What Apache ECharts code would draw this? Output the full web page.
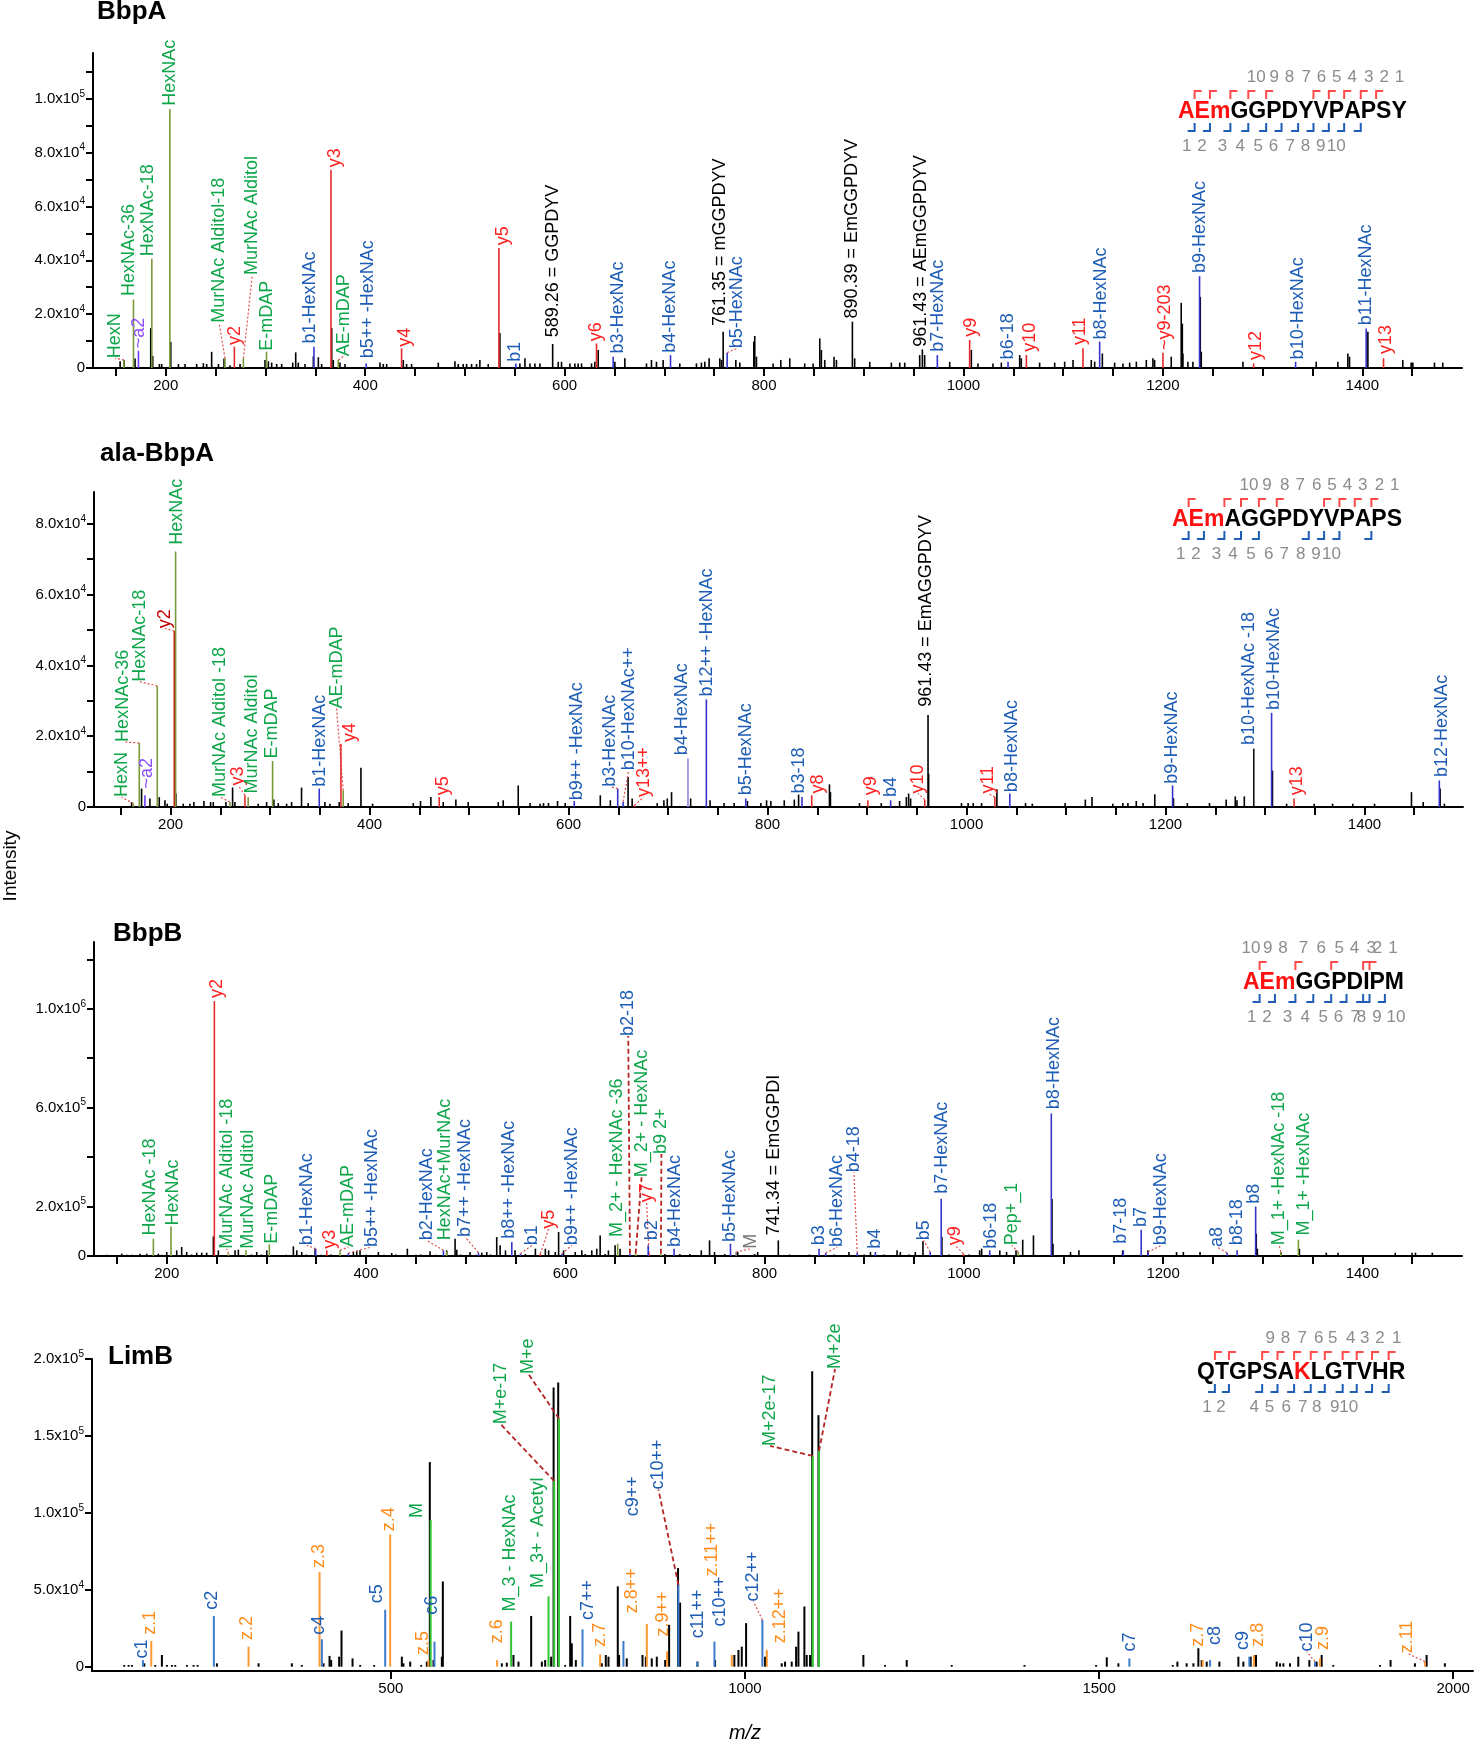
<!DOCTYPE html>
<html><head><meta charset="utf-8">
<script src="https://cdn.jsdelivr.net/npm/echarts@6/dist/echarts.min.js"></script>
<style>html,body{margin:0;padding:0;background:#fff}#c{width:1476px;height:1742px}</style>
</head><body><div id="c"></div><script>
const FONT = '"Liberation Sans", Arial, Helvetica, sans-serif';

// ---------- axis ticks / labels ----------
const xTicksA = [150,200,250,300,350,400,450,500,550,600,650,700,750,800,850,900,950,1000,1050,1100,1150,1200,1250,1300,1350,1400,1450];
const xLabelsA = [200,400,600,800,1000,1200,1400];
const p1YTicks = [0,10000,20000,30000,40000,50000,60000,70000,80000,90000,100000,110000];
const p1YLabels = [0,20000,40000,60000,80000,100000];
const p2YTicks = [0,10000,20000,30000,40000,50000,60000,70000,80000];
const p2YLabels = [0,20000,40000,60000,80000];
const p3YTicks = [0,200000,400000,600000,800000,1000000,1200000];
const p3YLabels = [0,200000,600000,1000000];
const p4XTicks = [500,1000,1500,2000];
const p4YTicks = [0,50000,100000,150000,200000];

// ---------- panel 1 : BbpA ----------
const p1Noise = [[154.2,2500],[158.2,3000],[169.2,3500],[184.9,14800],[186.9,4500],[193.6,1500],[195.9,1500],[205,9700],[212.7,1500],[219.3,1500],[231,1500],[237.7,1800],[241,1500],[246,6000],[252.8,1500],[258.4,3500],[264.4,1000],[274.5,1500],[299.5,3000],[302.9,2500],[306.2,2000],[311.2,1500],[316.2,1500],[327.3,2000],[330.3,5800],[332.9,2000],[339.6,1500],[348,4300],[353,4000],[356.3,1500],[366.4,14800],[368,3000],[374.7,2000],[379.7,1500],[414.8,2000],[418.1,1500],[421.5,1500],[438.2,3000],[441.5,1500],[446.5,1500],[473.3,2000],[490,2500],[493.3,1500],[498.3,1500],[501.7,1500],[506.7,1500],[511.7,1500],[515,3000],[523.4,1500],[535.1,13000],
[555.1,1700],[560.2,3600],[565.2,1700],[570.2,1700],[575.2,1700],[593.6,2300],[596.9,2300],[605.3,1700],[610.3,1700],[613.6,1700],[617,1700],[627,1700],[630.3,2300],[633.7,6700],[650.4,2300],[660.4,3600],[682.1,1700],[687.1,3000],[692.1,2300],[698.8,3000],[715.5,1700],[732.2,1700],[737.2,2000],[740.6,2300],[744.9,3600],[755.6,3600],[757.3,3000],[771.7,3000],[775.7,2000],[789.7,9800],[790.7,11900],[792.4,4200],[809.1,1700],[816.8,3000],[825.8,3600],[840.8,1700],[849.2,1700],[855.9,11000],[857.5,6700],[860.9,3000],[870.2,4200],[872.6,3000],[890.9,3600],[906,2300],[927.7,2000],[936.1,2000],[941.1,2000],[956.1,4800],[961.1,4800],[986.2,2300],[1007.9,6700],[1014.6,1700],[1029.6,1700],
[1038,2000],[1056.4,4800],[1058,3600],[1076.4,2000],[1091.5,2000],[1101.5,2350],[1109.9,3000],[1128.2,3000],[1131.6,2350],[1139.3,5400],[1151.6,2000],[1160,1700],[1166.7,2000],[1173.4,2350],[1183.4,3000],[1190,3600],[1191.7,3000],[1208.4,4200],[1218.4,24200],[1219.5,16500],[1220.1,5400],[1225.1,2350],[1230.1,2350],[1237.5,26400],[1238.5,6050],[1280.3,2350],[1353.8,2350],[1375.5,2350],[1385.5,5400],[1387.2,4200],[1405.6,13500],[1440.6,3000],[1449,2000],[1450.7,2000],[1472.4,2000],[1480.7,2000]];
// [m/z, intensity, label, colour, label m/z, label base intensity, leader]
const p1Ann = [
 [158,3000,'HexN','g',149.2,3600,1],
 [167.6,25400,'HexNAc-36','g',163.5,26700,0],
 [172.6,6400,'~a2','p',173.6,7300,0],
 [186,40600,'HexNAc-18','g',182.6,41500,0],
 [204.1,96200,'HexNAc','g',204.3,97400,0],
 [259.4,3600,'MurNAc Alditol-18','g',253.4,16800,1],
 [268.8,7900,'y2','r',269.5,8500,0],
 [277.8,3600,'MurNAc Alditol','g',286.8,34500,1],
 [301,6050,'E-mDAP','g',301.2,6400,0],
 [348.6,7900,'b1-HexNAc','b',344.6,9100,0],
 [365.7,73600,'y3','r',369.7,74600,0],
 [373,3000,'AE-mDAP','g',378.7,4400,1],
 [401,1700,'b5++ -HexNAc','b',403.1,3600,0],
 [436.5,7300,'y4','r',439.9,7900,0],
 [534.1,44600,'y5','r',538.4,45600,0],
 [551.1,1700,'b1','b',550.1,2300,0],
 [588,8900,'589.26 = GGPDYV','k',588.6,11400,0],
 [632,9100,'y6','r',632,9900,0],
 [648.7,4200,'b3-HexNAc','b',653.7,5400,0],
 [706.2,4800,'b4-HexNAc','b',706.2,5700,0],
 [759,13500,'761.35 = mGGPDYV','k',755.6,15600,0],
 [763,5700,'b5-HexNAc','b',773,7300,1],
 [888.6,17200,'890.39 = EmGGPDYV','k',888.6,18400,0],
 [958.8,6900,'961.43 = AEmGGPDYV','k',957.8,7900,0],
 [973.8,4800,'b7-HexNAc','b',974.5,6050,0],
 [1006.2,10400,'y9','r',1007.9,11600,0],
 [1044.7,2300,'b6-18','b',1044.7,3200,0],
 [1063.1,4800,'y10','r',1066.4,6050,0],
 [1119.9,7300,'y11','r',1116.5,8500,0],
 [1136.6,9800,'b8-HexNAc','b',1138.3,10600,0],
 [1200.1,5700,'~y9-203','r',1201.7,6700,0],
 [1236.8,34100,'b9-HexNAc','b',1236.8,35300,0],
 [1291,1700,'y12','r',1293.6,3000,0],
 [1333.1,2300,'b10-HexNAc','b',1335.4,3200,0],
 [1403.9,14700,'b11-HexNAc','b',1403.9,15900,0],
 [1421.3,3600,'y13','r',1423.9,5200,0]
];

// ---------- panel 2 : ala-BbpA ----------
const p2Noise = [[160.8,1400],[170.8,5200],[179.2,2400],[188.6,2800],[194.3,1900],[196.6,940],[205.3,3800],[212.7,940],[219.4,940],[223.4,1400],[233.5,1700],[240.2,1400],[242.9,1400],[255.6,1400],[262.3,5500],[264.6,1400],[288,940],[296.5,1400],[303.8,2100],[308.2,1100],[316.6,940],[321.6,1400],[331.6,5500],[338.3,1100],[355.1,1400],[360.1,940],[369.5,1400],[378.5,1100],[391.3,11100],[403,940],[443.9,1100],[451.2,1700],[461.6,2800],[474,1400],[486.7,2100],[499.1,1400],[529.3,1400],[534.3,1900],[549.4,6100],
[561.3,1100],[571.4,940],[574.8,1100],[579.8,1100],[588.9,1700],[596.6,1100],[631.9,3300],[642,1900],[659.8,8500],[663.9,2400],[689.1,1100],[695.8,1900],[699.2,2400],[703.5,4200],[722.7,2400],[742.2,1900],[756.3,1100],[766.4,1100],[779.8,1700],[793.3,1100],[799,1900],[803.3,1700],[816.8,1900],[826.9,2100],[831.2,3500],[862.2,6400],[863.2,4200],[892.4,1100],[914.3,1100],[932.7,1700],[939.5,2800],[941.8,3800],[943.8,2400],[961.9,9400],[994.9,1100],[1001.6,1100],[1006.7,1100],[1015.1,1100],[1030.5,5000],
[1059.3,1100],[1066.1,940],[1099.1,1100],[1119.4,2100],[1126.1,2800],[1147,940],[1157.1,1100],[1162.2,1100],[1170.6,1700],[1177.4,1100],[1189.2,3600],[1208,2500],[1221.9,1100],[1244.2,1100],[1261,2100],[1270.1,3000],[1271.8,1900],[1279.2,3000],[1307.5,10300],[1321.7,940],[1349.4,940],[1367.9,940],[1388.2,940],[1410.1,940],[1447.2,4200],[1459,1400],[1476,5200],[1480.3,940]];
const p2Ann = [
 [162.5,1000,'HexN','g',150.7,2800,1],
 [168.5,18100,'HexNAc-36','g',152.4,18400,1],
 [174.2,3300,'~a2','p',175.9,5200,0],
 [186.6,34200,'HexNAc-18','g',169.1,35400,1],
 [203.7,49700,'y2','dr',194.3,50500,1],
 [205,72200,'HexNAc','g',206,74100,0],
 [259.6,1400,'MurNAc Alditol -18','g',249.6,2800,1],
 [274.7,3300,'y3','r',268,6100,1],
 [278,2800,'MurNAc Alditol','g',281.4,3800,0],
 [302.5,13000,'E-mDAP','g',301.5,13700,0],
 [349.4,5200,'b1-HexNAc','b',350,5700,0],
 [373.5,4700,'AE-mDAP','g',366.8,27800,1],
 [371.2,17900,'y4','r',380.2,18400,0],
 [470,2800,'y5','r',474,3300,0],
 [605.7,1700,'b9++ -HexNAc','b',608.4,1900,0],
 [649.4,5200,'b3-HexNAc','b',642,5700,1],
 [654.8,1500,'b10-HexNAc++','b',660.5,10400,1],
 [666.2,500,'y13++','r',675.6,2800,1],
 [720,13700,'b4-HexNAc','b2',714.3,14600,0],
 [738.5,30400,'b12++ -HexNAc','b',739.5,31200,0],
 [778.1,2400,'b5-HexNAc','b',778.1,3300,0],
 [834.6,2800,'b3-18','b',831.2,3800,0],
 [844.4,3300,'y8','r',850.4,3800,0],
 [900.8,1900,'y9','r',904.2,3300,0],
 [923.7,1900,'b4','b',924.3,2800,0],
 [958,2100,'y10','r',951.2,3800,1],
 [961.3,26000,'961.43 = EmAGGPDYV','k',959.6,28300,0],
 [1028.5,2800,'y11','r',1021.8,3800,1],
 [1043.5,3800,'b8-HexNAc','b',1045.8,4200,0],
 [1207.1,6100,'b9-HexNAc','b',1206.1,6600,0],
 [1288.7,16500,'b10-HexNAc -18','bk',1283.6,17500,0],
 [1306.6,26600,'b10-HexNAc','b',1308.9,27400,0],
 [1329.2,2400,'y13','r',1332.5,3300,0],
 [1475.2,7500,'b12-HexNAc','b',1477.6,8500,0]
];

// ---------- panel 3 : BbpB ----------
const p3Noise = [[140,5000],[154.8,9400],[160,5000],[165,5000],[173.2,9400],[179.9,9400],[191.6,9400],[195,5000],[200,16100],[210,22800],[215,36300],[220,16100],[225,6000],[230.1,13400],[235.1,13400],[240.1,13400],[246.8,79000],[251.8,22800],[268.6,22800],[271.9,25500],[285,6000],[290.3,16100],[295,6000],[300.4,22800],[320,5000],[327.1,39000],[330.5,22800],[335.5,16100],[340,6000],[348.9,29600],[355,5000],[365,6000],[387.3,16100],[390.7,18800],[394,22800],[400,5000],[412.4,16100],[418,5000],[425.8,12100],[430,6000],[441.5,29600],[450,5000],[455,6000],[464.3,18800],[470,5000],[481,22800],[489.4,70000],[491.1,25500],[495,6000],[504.4,16100],[510,5000],[516.2,13400],[521.2,16100],[525,6000],[531.2,76600],[534.6,43000],[549.6,22800],
[540,22800],[560,8000],[570,29600],[580,29600],[583.3,22800],[590,16100],[593.3,96800],[598.3,22800],[610,16100],[616.6,22800],[620,8000],[626.6,22800],[631.6,29600],[635,83300],[640,8000],[643.3,22800],[650,43000],[655,29600],[700,8000],[715,8000],[725,8000],[736.5,22800],[744.8,63200],[749.8,16100],[760,8000],[773.1,16100],[790,8000],[793.1,16100],[825,6000],[845,6000],[870,6000],[884.7,16100],[900,6000],[906.3,16100],[920,6000],[933,22800],[936.3,16100],[945,6000],[951.3,16100],[959,60000],[978,76600],[985,6000],[1005,6000],[1017.9,29600],
[1015.9,22800],[1036.1,22800],[1042.9,16100],[1052.4,22800],[1059.1,65900],[1069.9,83300],[1088.5,231000],[1089.5,49700],[1107.1,16100],[1115.5,22800],[1159.4,22800],[1184.8,22800],[1213.5,16100],[1220.3,16100],[1237.1,16100],[1293.5,90000],[1294.6,29600],[1318.2,16100],[1336.8,29600],[1363.8,13400],[1375.6,13400],[1433,13400],[1449.9,13400],[1453.3,13400],[1470.2,13400]];
const p3Ann = [
 [186.6,69900,'HexNAc -18','g',183.3,83300,0],
 [204.3,119600,'HexNAc','g',206.7,123600,0],
 [247.8,1030800,'y2','r',250.2,1044000,0],
 [261.9,9400,'MurNAc Alditol -18','g',260.2,29600,1],
 [279.6,22800,'MurNAc Alditol','g',282,29600,0],
 [303,47000,'E-mDAP','g',305.4,49700,0],
 [349.5,29600,'b1-HexNAc','b',340.5,43000,1],
 [360.6,22800,'y3','r',363.9,29600,0],
 [374,22800,'AE-mDAP','g',382.3,36300,1],
 [382.3,12100,'b5++ -HexNAc','b',405.7,36300,1],
 [477.7,22800,'b2-HexNAc','b',460.9,63200,1],
 [481,18800,'HexNAc+MurNAc','g',479.3,63200,0],
 [512.8,15000,'b7++ -HexNAc','b',499.4,76600,1],
 [546.3,56400,'b8++ -HexNAc','b',543.6,69900,0],
 [555,9400,'b1','b',566.7,43000,1],
 [575,9400,'y5','r',583.3,110200,1],
 [596.6,9400,'b9++ -HexNAc','b',606.6,43000,1],
 [652.6,49700,'M_2+ - HexNAc -36','g',651.6,76600,0],
 [664.9,9400,'b2-18','b',663.2,889700,2],
 [670.6,9400,'M_2+ - HexNAc','g',676.6,318500,2],
 [684,12000,'y7','r',681.6,217700,1],
 [683.2,43000,'b2','b',686.6,63200,0],
 [696,9400,'b9 2+','g',696.5,412600,2],
 [709.2,29600,'b4-HexNAc','b',709.9,36300,0],
 [765.8,49700,'b5-HexNAc','b',765.8,56400,0],
 [771.5,16000,'M','gr',786.5,29600,1],
 [813.8,63200,'741.34 = EmGGPDI','k',809.1,83300,0],
 [854.7,29600,'b3','b',854.7,43000,0],
 [861.4,12100,'b6-HexNAc','b',873,36300,1],
 [893,12100,'b4-18','b',889.7,338700,1],
 [911.3,16100,'b4','b',911.3,29600,0],
 [966.3,16100,'b5','b',959.6,63200,1],
 [977.3,231200,'b7-HexNAc','b',977.9,251300,0],
 [999.6,9400,'y9','r',991.2,43000,1],
 [1026,22800,'b6-18','b',1027.7,29600,0],
 [1054.7,16100,'Pep+_1','g',1048,43000,1],
 [1087.8,576600,'b8-HexNAc','b',1090.2,594000,0],
 [1160.1,22800,'b7-18','b',1157.8,49700,0],
 [1178,106200,'b7','b',1178,116900,0],
 [1184.8,16100,'b9-HexNAc','b',1198.3,43000,1],
 [1264.2,13400,'a8','b',1254,36300,1],
 [1274.3,22800,'b8-18','b',1274.3,43000,0],
 [1292.9,200000,'b8','b',1291.2,211000,0],
 [1318.2,16100,'M_1+ -HexNAc -18','g',1316.5,43000,1],
 [1335.8,65900,'M_1+ -HexNAc','g',1341.9,83300,0]
];

// ---------- panel 4 : LimB ----------
const p4Noise = [[123.5,1100],[129.7,1100],[134.4,1100],[151.8,2200],[167.3,1100],[176.7,7600],[183.8,1100],[190.8,1100],[195.5,1100],[212,1100],[221.4,1100],[227.1,1100],[254.4,2200],[313.2,2200],[360.2,2200],[374.3,1100],[404.9,2200],[413.4,7000],[415.7,4300],[427,6500],[430.3,23500],[445.9,5400],[456.7,1100],[476.4,1100],[515.5,6500],[517.8,2200],[527.3,3300],[542.8,1100],[550.8,3300],[555,133000],[560.2,4300],[572,6500],[573.4,55400],[656.7,2200],[663.7,2600],[673.1,7600],[680.2,3300],[698.1,33000],[713.2,3300],[717.9,4300],[726.3,6500],[729.8,181500],[736.3,184800],[746.1,1100],[753.2,33000],[755.5,15200],[761.2,4300],[797.9,2200],[803.5,7600],[807.3,6500],[820.4,52200],[822.3,7600],[833.1,5400],[855.3,7600],[860,6500],[868.4,5400],[875.5,6500],[887.3,4300],[892.9,27200],[905.5,64100],[908.4,41700],[932.9,3300],[957.8,4300],[985,7600],[990.8,10900],[995.5,13000],[1001.6,28300],[1028.4,6500],[1051.9,2200],[1056.6,3300],[1066,3300],[1072.2,13000],[1075.5,22800],[1083.9,39100],[1087.2,7600],[1091.9,7600],[1094.9,192000],[1103.8,163500],[1167.2,7600],[1197.8,1100],[1228.4,4300],[1291.9,1100],[1394.7,1100],[1495.8,1100],[1510.9,6100],[1527.3,2200],[1604,1100],[1610.6,3300],[1623.7,2200],[1633.2,2200],[1640.2,12000],[1644.9,4300],[1652,3300],[1669.9,3300],[1696.7,6500],[1703.7,3300],[1714.1,6500],[1721.6,7600],[1750.8,3300],[1755.5,2200],[1760.2,2200],[1769.6,2200],[1781.3,6500],[1796.9,4300],[1807.2,3300],[1814.3,7600],[1830.7,1100],[1896.6,1100],[1911.6,4300],[1946,2200],[1962.5,7600],[1988.3,2200]];
const p4Ann = [
 [149.9,4300,'c1','b',148.5,5400,0],
 [161.7,16700,'z.1','o',160.2,20700,0],
 [250.1,33000,'c2','b',247.3,37000,0],
 [299.1,13000,'z.2','o',296.7,17400,0],
 [399.3,61500,'z.3','o',397.9,64100,0],
 [402.6,17800,'c4','b',397.9,20700,0],
 [492,37000,'c5','b',480.2,41300,0],
 [499,85900,'z.4','o',498.1,88000,0],
 [556.2,95200,'M','g',536.7,96700,0],
 [561.6,16300,'c6','b',557.9,33700,0],
 [553,4300,'z.5','o',545.1,7600,0],
 [650,4300,'z.6','o',649.6,15200,0],
 [669.8,29300,'M_3 - HexNAc','g',668.4,35900,0],
 [730.6,120700,'M+e-17','g',655,157600,2],
 [737.3,161300,'M+e','g',694.3,190200,2],
 [722.6,45700,'M_3+ - Acetyl','g',708.5,51100,0],
 [770.6,24300,'c7++','b',779,30400,0],
 [795.5,8000,'z.7','o',795.5,13000,0],
 [861.4,27800,'z.8++','o',840.2,34800,0],
 [828.4,16700,'c9++','b',842.6,97800,0],
 [890,10000,'z.9++','o',884.9,19600,0],
 [906,53300,'c10++','b',877.8,115200,2],
 [933,3300,'c11++','b',934.3,18500,0],
 [956.9,16300,'c10++','b',964.9,26100,0],
 [981.4,7600,'z.11++','o',953.1,58700,0],
 [1024.6,30400,'c12++','b',1011.9,42400,1],
 [1030.8,10900,'z.12++','o',1049.6,15200,0],
 [1095.7,137000,'M+2e-17','g',1035.5,143500,2],
 [1104.6,140200,'M+2e','g',1127.2,193500,2],
 [1542.8,5400,'c7','b',1543.8,9800,0],
 [1646.3,4300,'z.7','o',1640.2,13000,0],
 [1656.7,4300,'c8','b',1663.7,14100,0],
 [1712.2,6500,'c9','b',1703.7,10900,0],
 [1718.8,7600,'z.8','o',1724.9,13000,0],
 [1804.9,3300,'c10','b',1793.1,9800,1],
 [1811.9,5400,'z.9','o',1816.6,10900,0],
 [1960.1,3300,'z.11','o',1935.2,8700,1]
];

// ---------- peptide sequences ----------
const seqA = {seq:'AEmGGPDYVPAPSY', red:[0,1,2], b:[1,2,3,4,5,6,7,8,9,10,11], y:[1,2,3,4,5,8,9,10,11,12], bNum:[1,2,3,4,5,6,7,8,9,10], yNum:[1,2,3,4,5,6,7,8,9,10]};
const seqAla = {seq:'AEmAGGPDYVPAPS', red:[0,1,2], b:[1,2,3,4,5,8,9,10,12], y:[1,3,4,5,6,9,10,11,12], bNum:[1,2,3,4,5,6,7,8,9,10], yNum:[1,2,3,4,5,6,7,8,9,10]};
const seqB = {seq:'AEmGGPDIPM', red:[0,1,2], b:[1,2,3,4,5,6,7,8,9], y:[1,3,5,7,8], bNum:[1,2,3,4,5,6,7,8,9,10], yNum:[1,2,3,4,5,6,7,8,9,10]};
const seqL = {seq:'QTGPSAKLGTVHR', red:[6], b:[1,2,4,5,6,7,8,9,10,11,12], y:[1,2,4,5,6,7,8,9,10,11,12], bNum:[1,2,4,5,6,7,8,9,10], yNum:[1,2,3,4,5,6,7,8,9]};

// ---------- styling ----------
const PAL = {
  g:{l:'#0fa64b',p:'#7a9a3a'}, b:{l:'#1d5db5',p:'#3434cc'}, b2:{l:'#1d5db5',p:'#8f86e6'},
  bk:{l:'#1d5db5',p:'#111111'}, r:{l:'#ff2020',p:'#e52a2a'}, dr:{l:'#c00000',p:'#d01414'},
  p:{l:'#8b50ff',p:'#6b3cff'}, k:{l:'#000000',p:'#000000'}, gr:{l:'#777777',p:'#777777'},
  o:{l:'#ff8c1a',p:'#ff9933'}
};
const PAL4 = Object.assign({}, PAL, {g:{l:'#0fa64b',p:'#33c633'}, b:{l:'#1d5db5',p:'#3d7bcc'}});

function sci(v){
  if (v === 0) return '0';
  const e = Math.floor(Math.log10(v) + 1e-9);
  const m = (v / Math.pow(10, e)).toFixed(1);
  return '{m|' + m + 'x10}{e|' + e + '}';
}
const yRich = {m:{fontSize:15, fontFamily:FONT, color:'#000', lineHeight:20}, e:{fontSize:10, fontFamily:FONT, color:'#000', lineHeight:12, verticalAlign:'top'}};

function xAx(i, min, max, ticks, labels){
  return {gridIndex:i, type:'value', min:min, max:max, splitLine:{show:false},
    axisLine:{show:true, onZero:false, lineStyle:{color:'#000', width:2}},
    axisTick:{show:true, customValues:ticks, length:8, lineStyle:{color:'#000', width:2}},
    axisLabel:{customValues:labels, formatter:function(v){return String(v);}, color:'#000', fontSize:15, fontFamily:FONT, margin:10}};
}
function yAx(i, min, max, ticks, labels){
  return {gridIndex:i, type:'value', min:min, max:max, splitLine:{show:false},
    axisLine:{show:true, onZero:false, lineStyle:{color:'#000', width:2}},
    axisTick:{show:true, customValues:ticks, length:7, lineStyle:{color:'#000', width:2}},
    axisLabel:{customValues:labels, formatter:sci, rich:yRich, color:'#000', fontSize:15, fontFamily:FONT, margin:8}};
}
function noiseSeries(i, data, lw){
  return {type:'custom', xAxisIndex:i, yAxisIndex:i, clip:false, silent:true, animation:false,
    data: data.map(d => [d[0], d[1]]),
    renderItem: function(params, api){
      const x = api.value(0), y = api.value(1);
      const a = api.coord([x, 0]), b = api.coord([x, y]);
      return {type:'line', shape:{x1:a[0], y1:a[1], x2:b[0], y2:b[1]}, style:{stroke:'#000', lineWidth:lw}};
    }};
}
function annSeries(i, ann, pal, lw){
  return {type:'custom', xAxisIndex:i, yAxisIndex:i, clip:false, silent:true, animation:false,
    data: ann.map(d => [d[0], d[1], d[4], d[5]]),
    renderItem: function(params, api){
      const d = ann[params.dataIndex];
      const c = pal[d[3]];
      const a = api.coord([d[0], 0]), b = api.coord([d[0], d[1]]), t = api.coord([d[4], d[5]]);
      const ch = [{type:'line', shape:{x1:a[0], y1:a[1], x2:b[0], y2:b[1]}, style:{stroke:c.p, lineWidth:lw}}];
      if (d[6] === 1) ch.push({type:'line', shape:{x1:b[0], y1:b[1], x2:t[0], y2:t[1]}, style:{stroke:'#e05050', lineWidth:1.2, lineDash:[2,2]}});
      if (d[6] === 2) ch.push({type:'line', shape:{x1:b[0], y1:b[1], x2:t[0], y2:t[1]}, style:{stroke:'#b52525', lineWidth:1.8, lineDash:[5,3]}});
      ch.push({type:'text', x:t[0], y:t[1], rotation:Math.PI/2,
        style:{text:d[2], fill:c.l, font:'18px ' + FONT, align:'left', verticalAlign:'middle', textAlign:'left', textVerticalAlign:'middle'}});
      return {type:'group', children:ch};
    }};
}

// ---------- sequence diagrams ----------
const meas = document.createElement('canvas').getContext('2d');
meas.font = 'bold 23px "Liberation Sans"';
function txt(x, y, s, font, fill, align){
  return {type:'text', x:x, y:y, silent:true, z:50,
    style:{text:s, font:font, fill:fill, align:align||'left', verticalAlign:'middle', textAlign:align||'left', textVerticalAlign:'middle'}};
}
function seqGraphic(s, x0, yc){
  const els = []; const bounds = [x0]; let x = x0;
  for (let i = 0; i < s.seq.length; i++){
    const ch = s.seq[i];
    els.push(txt(x, yc, ch, 'bold 23px ' + FONT, s.red.indexOf(i) >= 0 ? '#ff1010' : '#000'));
    x += meas.measureText(ch).width; bounds.push(x);
  }
  const n = s.seq.length;
  s.y.forEach(k => { const bx = bounds[k];
    els.push({type:'polyline', silent:true, z:50, shape:{points:[[bx, yc-13],[bx, yc-21],[bx+7, yc-21]]}, style:{stroke:'#ff4a4a', lineWidth:2, fill:null}}); });
  s.b.forEach(k => { const bx = bounds[k];
    els.push({type:'polyline', silent:true, z:50, shape:{points:[[bx, yc+11],[bx, yc+19],[bx-7, yc+19]]}, style:{stroke:'#1d5db5', lineWidth:2, fill:null}}); });
  s.yNum.forEach(k => els.push(txt(bounds[n-k] + 8, yc - 35, String(k), '17px ' + FONT, '#8c8c8c', 'center')));
  s.bNum.forEach(k => els.push(txt(bounds[k] - 8, yc + 34, String(k), '17px ' + FONT, '#8c8c8c', 'center')));
  return els;
}

const graphics = [].concat(
  [txt(97, 12, 'BbpA', 'bold 26px ' + FONT, '#000'),
   txt(100, 454, 'ala-BbpA', 'bold 26px ' + FONT, '#000'),
   txt(113, 934, 'BbpB', 'bold 26px ' + FONT, '#000'),
   txt(108, 1357, 'LimB', 'bold 26px ' + FONT, '#000'),
   Object.assign(txt(11, 866, 'Intensity', '19px ' + FONT, '#000', 'center'), {rotation:Math.PI/2}),
   txt(745, 1733, 'm/z', 'italic 20px ' + FONT, '#000', 'center')],
  seqGraphic(seqA, 1178, 112),
  seqGraphic(seqAla, 1172, 520),
  seqGraphic(seqB, 1243, 983),
  seqGraphic(seqL, 1197, 1373)
);

const option = {
  animation:false,
  backgroundColor:'#fff',
  grid:[
    {left:93, top:53, width:1369, height:315},
    {left:94, top:492, width:1369, height:315},
    {left:94, top:942, width:1368, height:314},
    {left:92, top:1359, width:1381, height:312}
  ],
  xAxis:[
    xAx(0,127,1500,xTicksA,xLabelsA),
    xAx(1,123,1499,xTicksA,xLabelsA),
    xAx(2,127,1500,xTicksA,xLabelsA),
    xAx(3,78,2028,p4XTicks,p4XTicks)
  ],
  yAxis:[
    yAx(0,0,117000,p1YTicks,p1YLabels),
    yAx(1,0,89000,p2YTicks,p2YLabels),
    yAx(2,0,1270000,p3YTicks,p3YLabels),
    yAx(3,-2800,200000,p4YTicks,p4YTicks)
  ],
  series:[
    noiseSeries(0,p1Noise,1.6), annSeries(0,p1Ann,PAL,1.6),
    noiseSeries(1,p2Noise,1.6), annSeries(1,p2Ann,PAL,1.6),
    noiseSeries(2,p3Noise,1.6), annSeries(2,p3Ann,PAL,1.6),
    noiseSeries(3,p4Noise,2), annSeries(3,p4Ann,PAL4,2)
  ],
  graphic: graphics
};
const chart = echarts.init(document.getElementById('c'), null, {renderer:'canvas'});
chart.setOption(option);
</script></body></html>
